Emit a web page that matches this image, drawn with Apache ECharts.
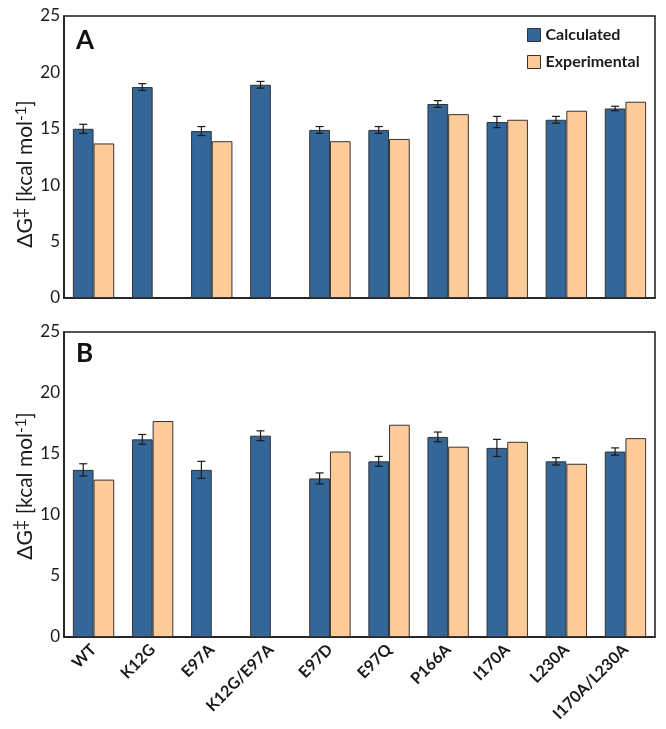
<!DOCTYPE html>
<html>
<head>
<meta charset="utf-8">
<script src="https://cdn.jsdelivr.net/npm/echarts@6/dist/echarts.min.js"></script>
<style>html,body{margin:0;padding:0;background:#fff}#c{width:666px;height:729px}</style>
</head>
<body>
<div id="c"></div>
<script>
const categories = ['WT','K12G','E97A','K12G/E97A','E97D','E97Q','P166A','I170A','L230A','I170A/L230A'];
const calcA    = [15.0, 18.7, 14.8, 18.9, 14.9, 14.9, 17.2, 15.6, 15.8, 16.8];
const calcAErr = [0.4, 0.3, 0.4, 0.3, 0.3, 0.3, 0.3, 0.5, 0.3, 0.2];
const expA     = [13.7, null, 13.9, null, 13.9, 14.1, 16.3, 15.8, 16.6, 17.4];
const calcB    = [13.7, 16.2, 13.7, 16.5, 13.0, 14.4, 16.4, 15.5, 14.4, 15.2];
const calcBErr = [0.5, 0.4, 0.7, 0.4, 0.45, 0.4, 0.4, 0.7, 0.3, 0.3];
const expB     = [12.9, 17.7, null, null, 15.2, 17.4, 15.6, 16.0, 14.2, 16.3];
const yTicks = [0, 5, 10, 15, 20, 25];

const FONT = 'Lato';
const BLUE = '#336699';
const ORANGE = '#FFCC99';

function errSeries(calc, err, idx) {
  return {
    type: 'custom', xAxisIndex: idx, yAxisIndex: idx, z: 10,
    data: calc.map((v, i) => [i, v, err[i]]),
    encode: { x: 0, y: 1 },
    silent: true,
    renderItem: function (params, api) {
      const x = api.value(0), v = api.value(1), e = api.value(2);
      const band = api.size([1, 0])[0];
      const off = -0.175 * band;
      const p1 = api.coord([x, v + e]);
      const p2 = api.coord([x, v - e]);
      const cx = p1[0] + off;
      const hw = 4;
      const st = { stroke: '#1a1a1a', lineWidth: 1.2 };
      return {
        type: 'group', children: [
          { type: 'line', shape: { x1: cx, y1: p1[1], x2: cx, y2: p2[1] }, style: st },
          { type: 'line', shape: { x1: cx - hw, y1: p1[1], x2: cx + hw, y2: p1[1] }, style: st },
          { type: 'line', shape: { x1: cx - hw, y1: p2[1], x2: cx + hw, y2: p2[1] }, style: st }
        ]
      };
    }
  };
}

const yName = '{a|ΔG}{s|‡}{a| [kcal mol}{t|-1}{a|]}';
const yRich = {
  a: { fontFamily: FONT, fontSize: 21, color: '#1a1a1a', fill: '#1a1a1a', lineHeight: 28 },
  s: { fontFamily: FONT, fontSize: 18, color: '#1a1a1a', fill: '#1a1a1a', lineHeight: 28, verticalAlign: 'bottom', padding: [0, 0, 10, 0] },
  t: { fontFamily: FONT, fontSize: 15, color: '#1a1a1a', fill: '#1a1a1a', lineHeight: 28, verticalAlign: 'bottom', padding: [0, 0, 10, 0] }
};

function yAxis(idx) {
  return {
    type: 'value', gridIndex: idx, min: 0, max: 25, interval: 5,
    axisLine: { show: true, lineStyle: { color: '#1a1a1a', width: 1.5 } },
    axisTick: { show: false },
    splitLine: { show: false },
    axisLabel: { fontFamily: FONT, fontSize: 17, color: '#1a1a1a', margin: 4,
      formatter: v => yTicks.includes(v) ? String(v) : '' }
  };
}

function barItem(color) {
  return { color: color, borderColor: '#333', borderWidth: 1 };
}

function yTitle(cx, cy) {
  return { type: 'text', x: cx, y: cy, rotation: Math.PI / 2, z: 20,
    style: { text: yName, rich: yRich, align: 'center', verticalAlign: 'middle', fill: '#1a1a1a' } };
}

const option = {
  animation: false,
  backgroundColor: '#fff',
  legend: {
    orient: 'vertical', left: 527, top: 27, itemGap: 11, padding: 0,
    icon: 'rect', itemWidth: 13, itemHeight: 13,
    itemStyle: { borderColor: '#333', borderWidth: 1 },
    textStyle: { fontFamily: FONT, fontSize: 16, fontWeight: 'bold', color: '#1a1a1a' },
    data: ['Calculated', 'Experimental']
  },
  grid: [
    { left: 64, top: 16, width: 591, height: 282, show: true, borderColor: '#1a1a1a', borderWidth: 1.5, backgroundColor: 'transparent' },
    { left: 64, top: 332, width: 591, height: 305, show: true, borderColor: '#1a1a1a', borderWidth: 1.5, backgroundColor: 'transparent' }
  ],
  xAxis: [
    { type: 'category', gridIndex: 0, data: categories,
      axisLine: { lineStyle: { color: '#1a1a1a', width: 1.5 } }, axisTick: { show: false }, axisLabel: { show: false } },
    { type: 'category', gridIndex: 1, data: categories,
      axisLine: { lineStyle: { color: '#1a1a1a', width: 1.5 } }, axisTick: { show: false },
      axisLabel: { rotate: 45, interval: 0, fontFamily: FONT, fontSize: 16, fontWeight: 'bold', color: '#1a1a1a', margin: 10 } }
  ],
  yAxis: [yAxis(0), yAxis(1)],
  series: [
    { name: 'Calculated', type: 'bar', xAxisIndex: 0, yAxisIndex: 0, data: calcA, barGap: '0%', barCategoryGap: '30%', itemStyle: barItem(BLUE) },
    { name: 'Experimental', type: 'bar', xAxisIndex: 0, yAxisIndex: 0, data: expA, barGap: '0%', barCategoryGap: '30%', itemStyle: barItem(ORANGE) },
    { name: 'Calculated', type: 'bar', xAxisIndex: 1, yAxisIndex: 1, data: calcB, barGap: '0%', barCategoryGap: '30%', itemStyle: barItem(BLUE) },
    { name: 'Experimental', type: 'bar', xAxisIndex: 1, yAxisIndex: 1, data: expB, barGap: '0%', barCategoryGap: '30%', itemStyle: barItem(ORANGE) },
    errSeries(calcA, calcAErr, 0),
    errSeries(calcB, calcBErr, 1)
  ],
  graphic: [
    { type: 'text', left: 76, top: 28, style: { text: 'A', fontFamily: FONT, fontSize: 26, fontWeight: 'bold', fill: '#111' } },
    { type: 'text', left: 76, top: 341, style: { text: 'B', fontFamily: FONT, fontSize: 26, fontWeight: 'bold', fill: '#111' } },
    yTitle(25, 174),
    yTitle(25, 486)
  ]
};

const chart = echarts.init(document.getElementById('c'), null, { renderer: 'canvas' });
chart.setOption(option);
</script>
</body>
</html>
